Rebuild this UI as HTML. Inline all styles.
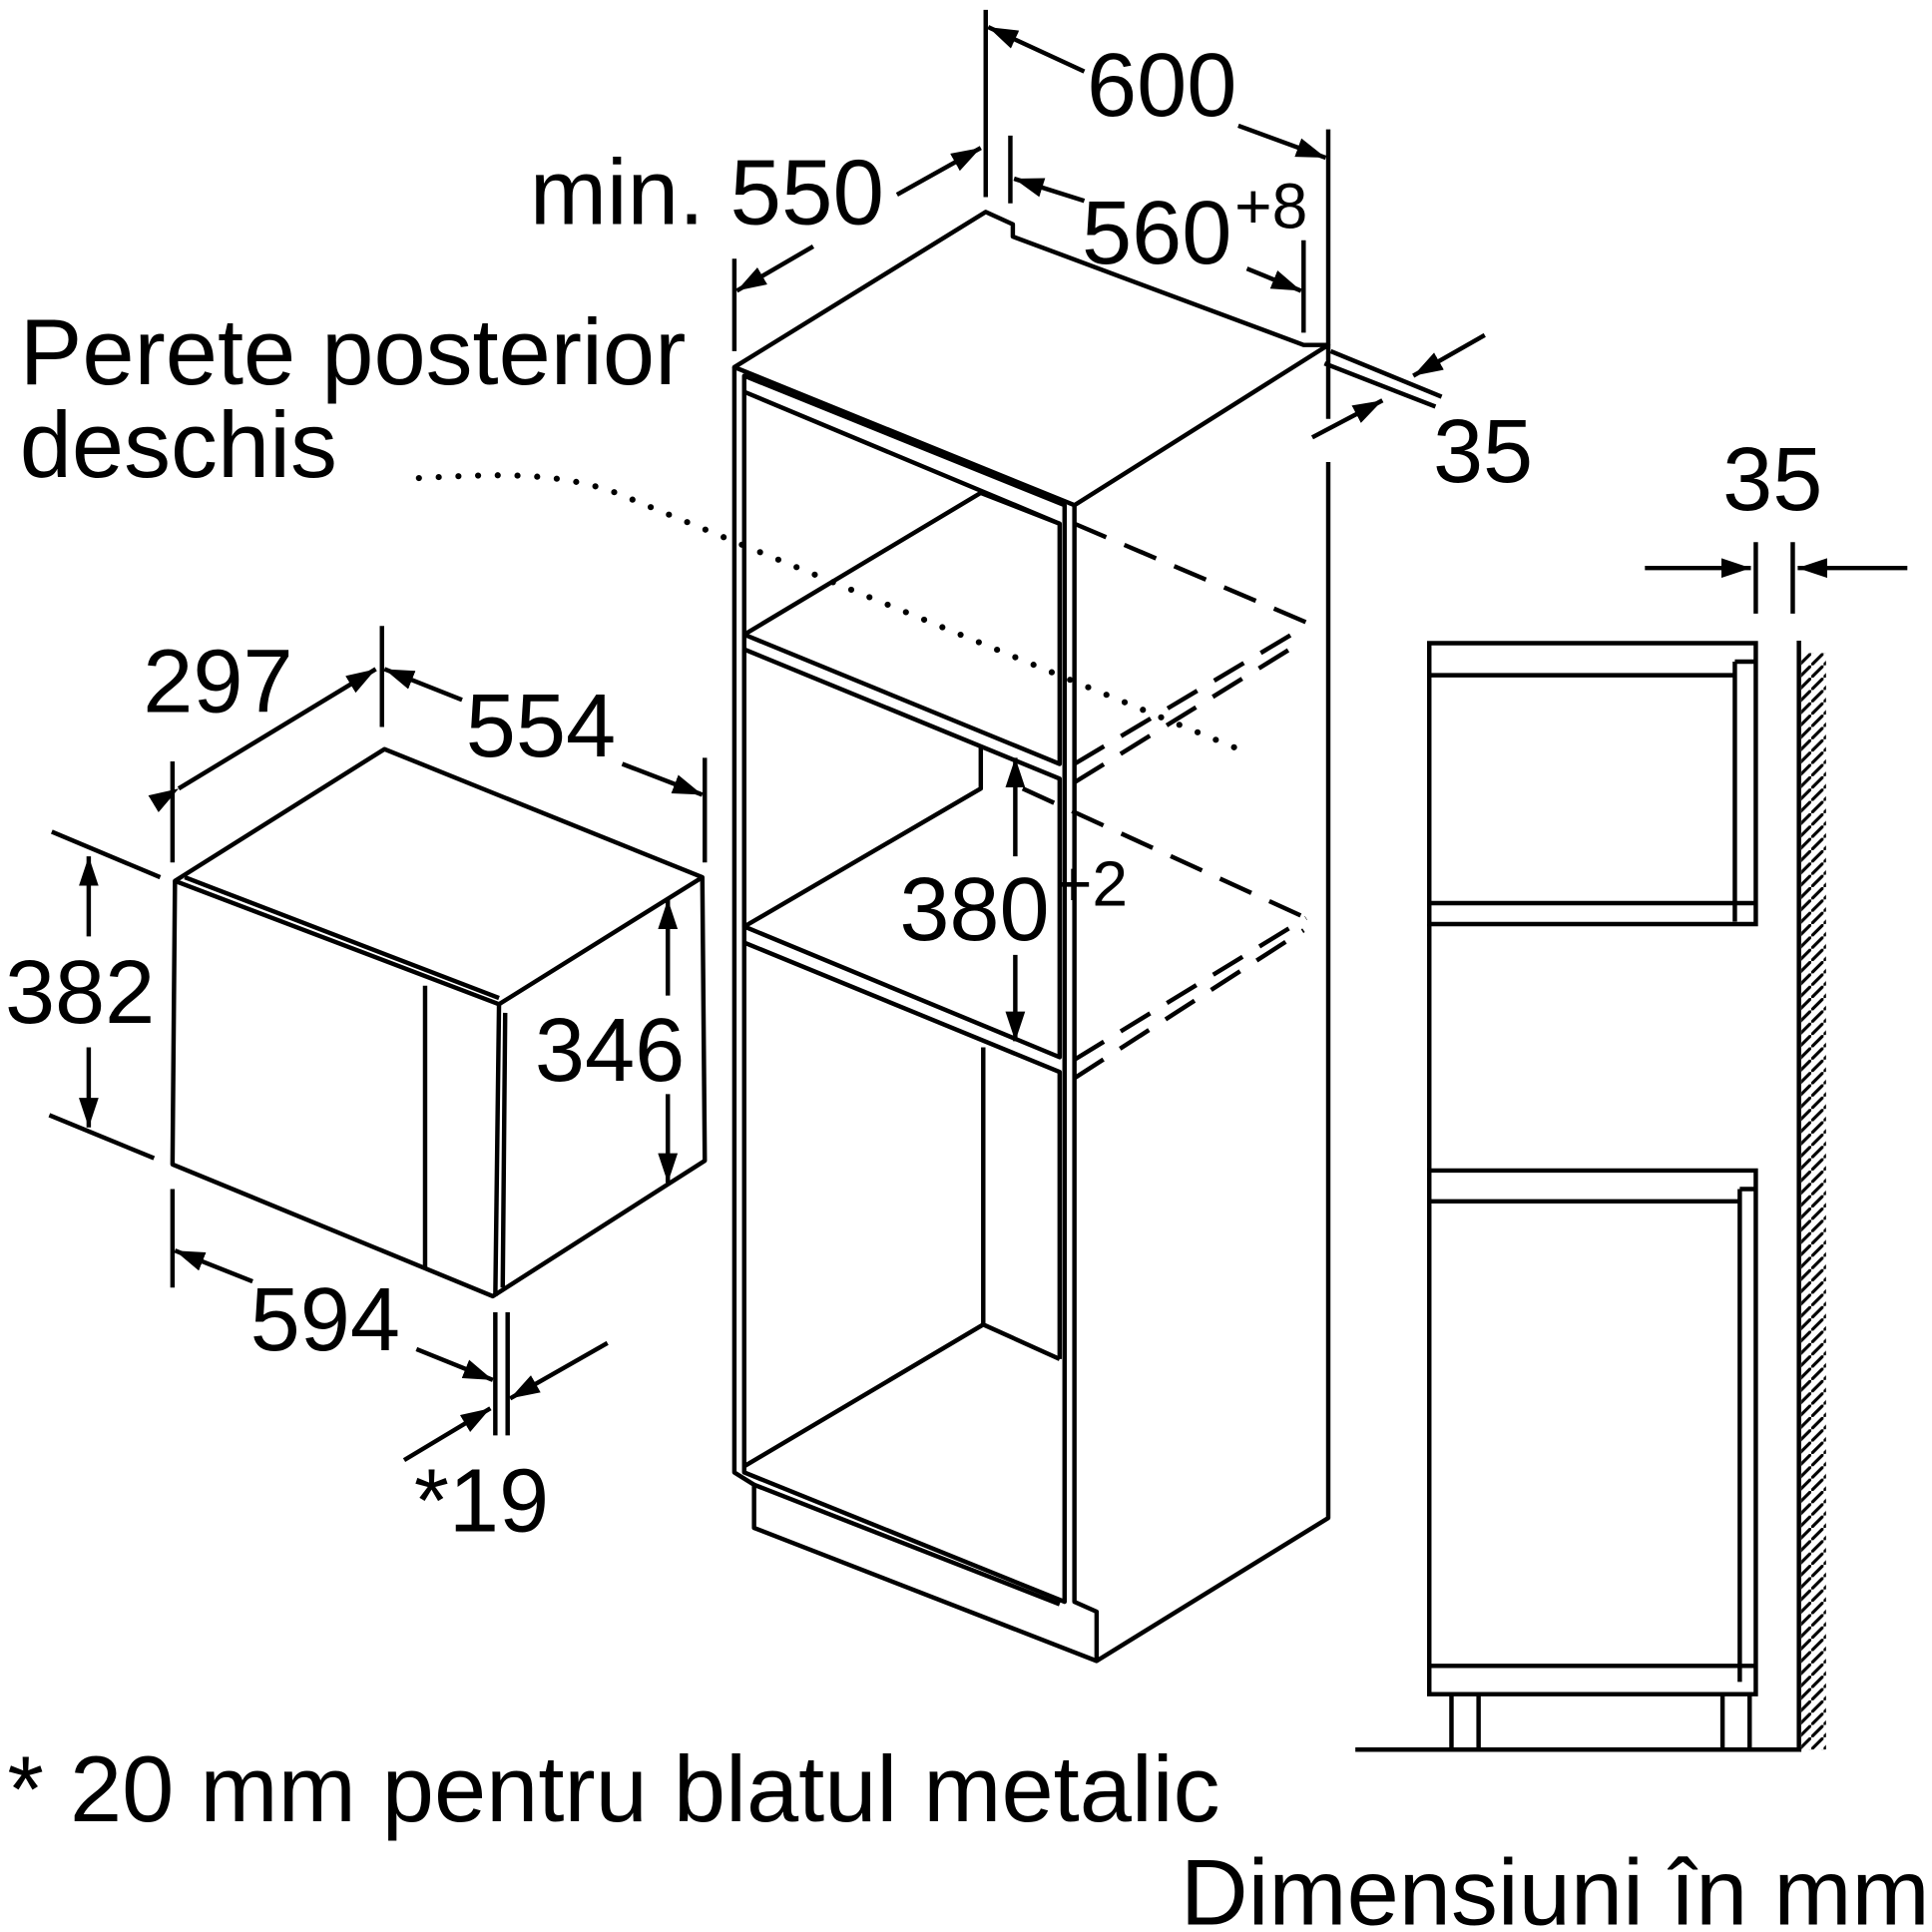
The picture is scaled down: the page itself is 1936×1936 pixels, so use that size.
<!DOCTYPE html><html><head><style>html,body{margin:0;padding:0;background:#fff}svg{display:block}text{font-family:"Liberation Sans",sans-serif;fill:#000}</style></head><body>
<svg width="1936" height="1936" viewBox="0 0 1568 1568" xmlns="http://www.w3.org/2000/svg">
<defs>
<marker id="A" viewBox="0 0 24 16" refX="24" refY="8" markerWidth="24" markerHeight="16" orient="auto" markerUnits="userSpaceOnUse"><path d="M0,0L24,8L0,16z"/></marker>
<pattern id="h" width="10" height="10" patternUnits="userSpaceOnUse"><path d="M-2,12L12,-2" stroke="#000" stroke-width="2.5"/></pattern>
</defs>
<g fill="none" stroke="#000" stroke-width="3.6" stroke-linejoin="round">
<path d="M142,715L312,608L570,712L405,815L142,715Z"/>
<path d="M150,712L405,810"/>
<path d="M142,715L140,945L400,1052L572,942L570,712"/>
<path d="M405,815L402,1052M410,822L408,1045"/>
<path d="M345,800L345,1030"/>
<path d="M140,618L140,700M310,508L310,590M572,615L572,700"/>
<path d="M145,640L305,543" marker-start="url(#A)" marker-end="url(#A)"/>
<path d="M375,568L312,543" marker-end="url(#A)"/>
<path d="M505,620L570,645" marker-end="url(#A)"/>
<path d="M42,675L130,712M40,905L125,940"/>
<path d="M72,760L72,695" marker-end="url(#A)"/>
<path d="M72,850L72,915" marker-end="url(#A)"/>
<path d="M542,808L542,730" marker-end="url(#A)"/>
<path d="M542,888L542,960" marker-end="url(#A)"/>
<path d="M140,965L140,1045M402,1065L402,1165M412,1065L412,1165"/>
<path d="M205,1040L142,1015" marker-end="url(#A)"/>
<path d="M338,1095L400,1120" marker-end="url(#A)"/>
<path d="M493,1090L414,1135" marker-end="url(#A)"/>
<path d="M328,1185L398,1143" marker-end="url(#A)"/>
<path d="M596,298L800,172L822,182L822,192L1058,280L1078,280L872,410L596,298Z"/>
<path d="M596,298L596,1195L612,1205L612,1240L890,1348L1078,1232L1078,375"/>
<path d="M872,410L872,1300L890,1308L890,1348"/>
<path d="M604,305L864,410L864,1300L604,1195L604,305Z"/>
<path d="M604,318L860,425L860,620L604,515M604,515L796,400L860,425"/>
<path d="M604,527L860,632L860,858L604,752L604,527"/>
<path d="M604,765L860,870L860,1103"/>
<path d="M604,752L796,640L796,605"/>
<path d="M798,850L798,1075L860,1103M604,1190L798,1075"/>
<path d="M612,1205L860,1302"/>
</g>
<g fill="none" stroke="#000" stroke-width="3.6" stroke-dasharray="28,16">
<path d="M872,425L1060,505M872,620L1060,508M872,635L1058,520M830,640L1060,745M872,860L1060,745M872,875L1058,755"/>
</g>
<path d="M340,388C400,385 450,382 500,400L1010,610" fill="none" stroke="#000" stroke-width="5" stroke-linecap="round" stroke-dasharray="0,16"/>
<g fill="none" stroke="#000" stroke-width="3.6">
<path d="M800,8L800,160M1078,105L1078,340M820,110L820,165M1058,195L1058,270"/>
<path d="M880,58L802,22" marker-end="url(#A)"/>
<path d="M1005,102L1076,128" marker-end="url(#A)"/>
<path d="M728,158L796,120" marker-end="url(#A)"/>
<path d="M660,200L598,236" marker-end="url(#A)"/>
<path d="M596,210L596,285"/>
<path d="M880,163L823,145" marker-end="url(#A)"/>
<path d="M1012,218L1056,236" marker-end="url(#A)"/>
<path d="M1080,285L1170,322M1075,295L1165,330"/>
<path d="M1205,272L1147,305" marker-end="url(#A)"/>
<path d="M1065,355L1122,325" marker-end="url(#A)"/>
<path d="M824,695L824,615" marker-end="url(#A)"/>
<path d="M824,775L824,845" marker-end="url(#A)"/>
<path d="M1425,440L1425,498M1455,440L1455,498"/>
<path d="M1335,461L1421,461" marker-end="url(#A)"/>
<path d="M1548,461L1459,461" marker-end="url(#A)"/>
<path d="M1160,522L1425,522L1425,750L1160,750ZM1160,548L1408,548M1408,537L1425,537M1408,537L1408,748M1160,733L1425,733"/>
<path d="M1160,950L1425,950L1425,1375L1160,1375ZM1160,975L1412,975M1412,965L1425,965M1412,965L1412,1365M1160,1352L1425,1352"/>
<path d="M1160,750L1160,950"/>
<path d="M1178,1375L1178,1420M1200,1375L1200,1420M1398,1375L1398,1420M1420,1375L1420,1420"/>
<path d="M1100,1420L1462,1420M1460,520L1460,1420"/>
</g>
<rect x="1462" y="530" width="20" height="890" fill="url(#h)"/>
<g font-size="73">
<text x="882" y="94">600</text>
<text x="430" y="182" font-size="75">min. 550</text>
<text x="878" y="214">560</text><text x="1002" y="185" font-size="52">+8</text>
<text x="1163" y="391">35</text>
<text x="1398" y="414">35</text>
<text x="16" y="312" font-size="76">Perete posterior</text>
<text x="16" y="387" font-size="76">deschis</text>
<text x="116" y="578">297</text>
<text x="378" y="614">554</text>
<text x="4" y="830">382</text>
<text x="434" y="877">346</text>
<text x="730" y="763">380</text><text x="856" y="735" font-size="52">+2</text>
<text x="203" y="1096">594</text>
<text x="336" y="1243">*19</text>
<text x="6" y="1478" font-size="76">* 20 mm pentru blatul metalic</text>
<text x="958" y="1562" font-size="76">Dimensiuni în mm</text>
</g>
</svg>
</body></html>
